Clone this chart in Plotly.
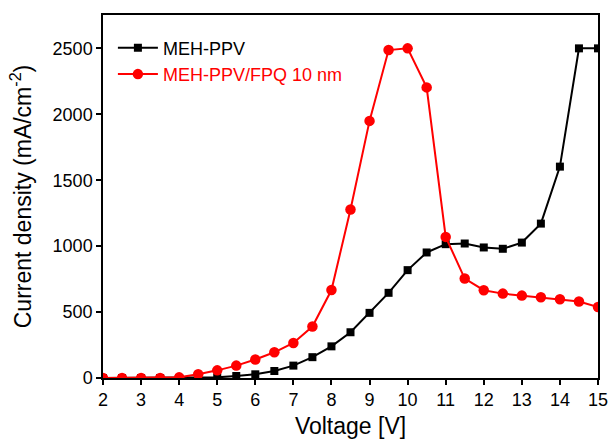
import plotly.graph_objects as go

voltage = [2, 2.5, 3, 3.5, 4, 4.5, 5, 5.5, 6, 6.5, 7, 7.5, 8, 8.5, 9, 9.5, 10,
           10.5, 11, 11.5, 12, 12.5, 13, 13.5, 14, 14.5, 15]
meh_ppv = [0, 0, 0, 0, 0, 2, 5, 15, 28, 53, 94, 158, 240, 347, 494, 646, 818,
           952, 1015, 1020, 990, 980, 1027, 1171, 1603, 2500, 2500]
meh_fpq = [0, 0, 0, 0, 5, 28, 58, 94, 140, 195, 266, 390, 667, 1278, 1950, 2487, 2500,
           2204, 1070, 754, 666, 640, 625, 612, 597, 580, 539]

x_ticks = [2, 3, 4, 5, 6, 7, 8, 9, 10, 11, 12, 13, 14, 15]
y_ticks = [0, 500, 1000, 1500, 2000, 2500]

fig = go.Figure()
fig.add_trace(go.Scatter(
    x=voltage, y=meh_ppv, mode="lines+markers", name="MEH-PPV",
    line=dict(color="black", width=2),
    marker=dict(symbol="square", size=8, color="black"),
))
fig.add_trace(go.Scatter(
    x=voltage, y=meh_fpq, mode="lines+markers",
    name="<span style='color:#ff0000'>MEH-PPV/FPQ 10 nm</span>",
    line=dict(color="#ff0000", width=2),
    marker=dict(symbol="circle", size=10.5, color="#ff0000"),
))

axis_common = dict(
    showline=True, linecolor="black", linewidth=1.5, mirror=True,
    ticks="outside", ticklen=5, tickwidth=1.5, tickcolor="black",
    showgrid=False, zeroline=False, automargin=False,
    tickfont=dict(family="Arial, Liberation Sans", size=18, color="black"),
)

fig.update_layout(
    width=612, height=439,
    margin=dict(l=103, r=14, t=15, b=61),
    plot_bgcolor="white", paper_bgcolor="white",
    font=dict(family="Arial, Liberation Sans", color="black"),
    legend=dict(x=0.02, y=0.96, xanchor="left", yanchor="top",
                bgcolor="rgba(0,0,0,0)", font=dict(size=18, color="black"),
                itemwidth=40, tracegroupgap=0),
    showlegend=True,
)
fig.update_xaxes(range=[2, 15], tickvals=x_ticks,
                 title=dict(text="Voltage [V]", font=dict(size=23)),
                 **axis_common)
fig.update_yaxes(range=[0, 2753], tickvals=y_ticks,
                 title=dict(text="Current density (mA/cm<sup>-2</sup>)", font=dict(size=23)),
                 **axis_common)

fig.write_html("out.html")
